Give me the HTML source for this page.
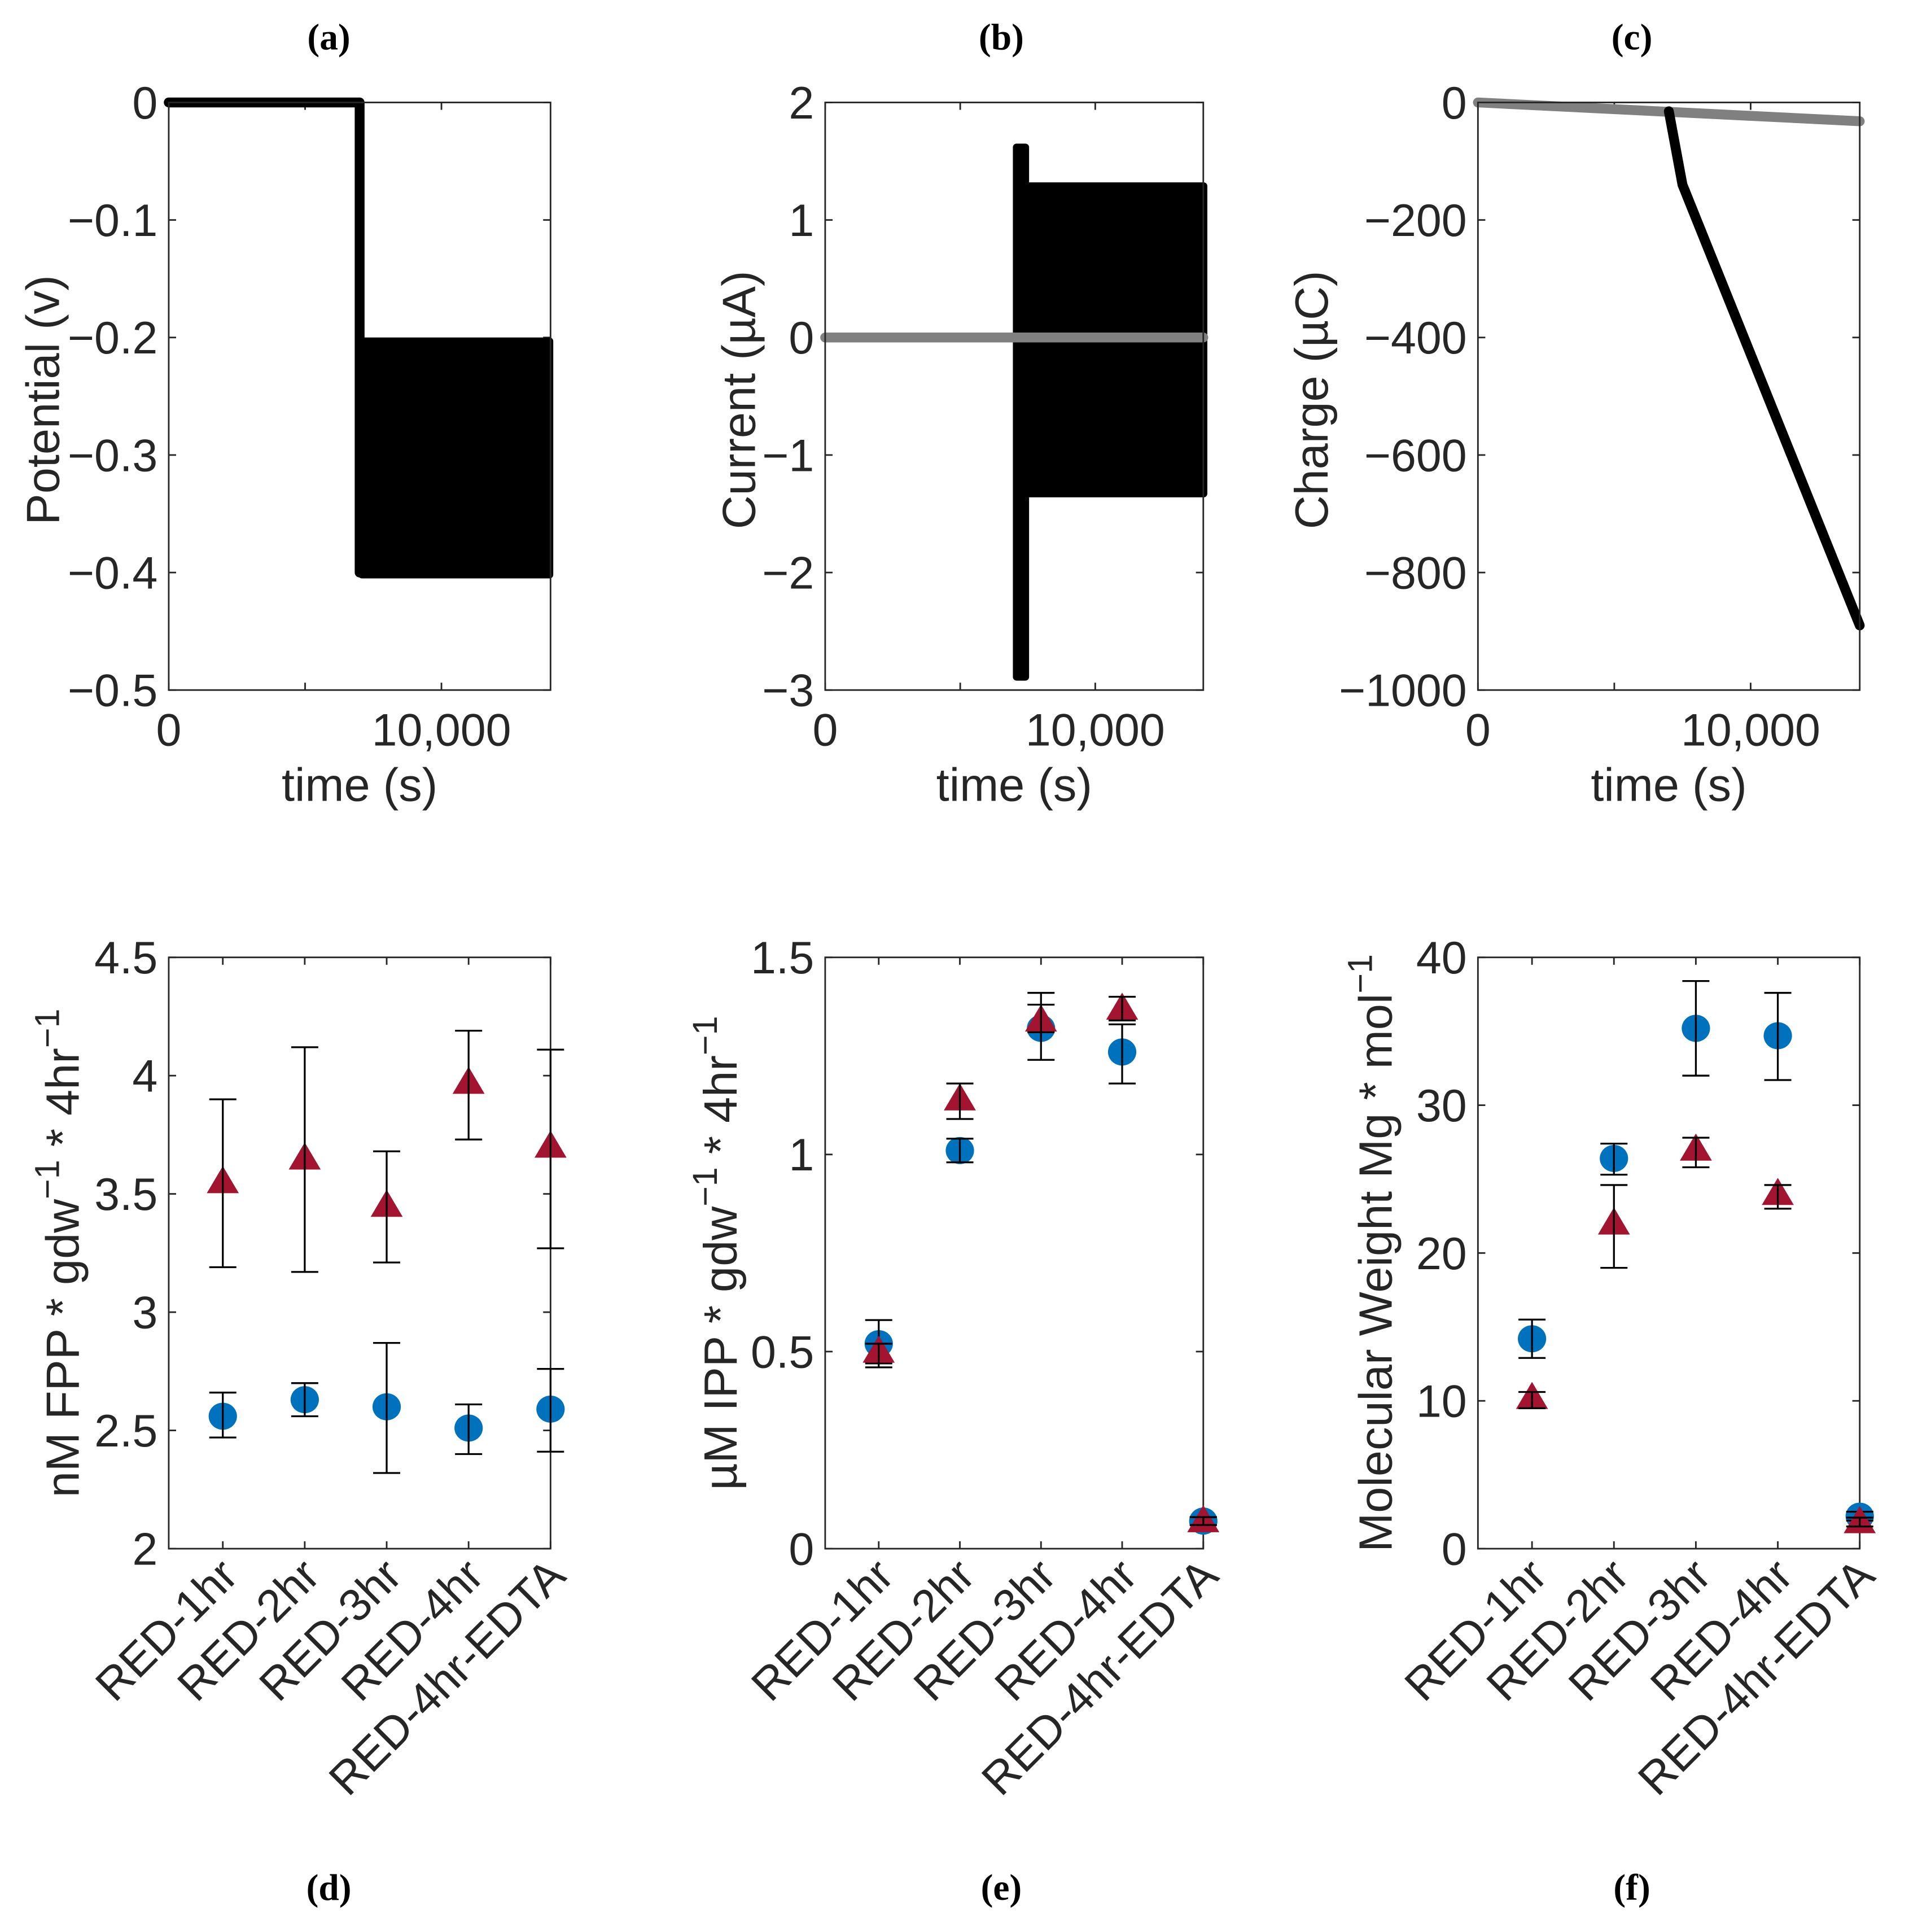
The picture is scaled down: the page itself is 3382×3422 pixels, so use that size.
<!DOCTYPE html>
<html><head><meta charset="utf-8"><style>
html,body{margin:0;padding:0;background:#fff;}
svg{display:block;}
text{font-family:"Liberation Sans",sans-serif;fill:#262626;}
.pl{font-family:"Liberation Serif",serif;font-weight:bold;fill:#000;font-size:30px;}
</style></head><body>
<svg id="fig" width="3382" height="3422" viewBox="0 0 1550 1568" xmlns="http://www.w3.org/2000/svg"></svg>
<script>
// ---- data ----
const timeTicks=[0,5000,10000];
const timeTickLabels=['0','','10,000'];
const potTicks=[0,-0.1,-0.2,-0.3,-0.4,-0.5];
const potTickLabels=['0','\u22120.1','\u22120.2','\u22120.3','\u22120.4','\u22120.5'];
const curTicks=[2,1,0,-1,-2,-3];
const curTickLabels=['2','1','0','\u22121','\u22122','\u22123'];
const chgTicks=[0,-200,-400,-600,-800,-1000];
const chgTickLabels=['0','\u2212200','\u2212400','\u2212600','\u2212800','\u22121000'];
const potLineT=[0,7000,7000];
const potLineV=[0,0,-0.4];
const potBlock=[6950,14100,-0.2,-0.405];
const curGrayT=[0,14000];
const curGrayV=[0,0];
const curSpike=[6950,7550,1.65,-2.92];
const curBlock=[7400,14150,1.32,-1.36];
const chgGrayT=[0,14000];
const chgGrayV=[0,-32];
const chgBlackT=[7000,7500,14000];
const chgBlackV=[-15,-140,-890];
const categories=['RED-1hr','RED-2hr','RED-3hr','RED-4hr','RED-4hr-EDTA'];
const dTri=[3.55,3.65,3.45,3.97,3.70];
const dTriLo=[3.19,3.17,3.21,3.73,3.27];
const dTriHi=[3.90,4.12,3.68,4.19,4.11];
const dCir=[2.56,2.63,2.60,2.51,2.59];
const dCirLo=[2.47,2.56,2.32,2.40,2.41];
const dCirHi=[2.66,2.70,2.87,2.61,2.76];
const dTicks=[2,2.5,3,3.5,4,4.5];
const dTickLabels=['2','2.5','3','3.5','4','4.5'];
const eTri=[0.50,1.14,1.34,1.37,0.07];
const eTriLo=[0.46,1.09,1.31,1.34,0.06];
const eTriHi=[0.52,1.18,1.41,1.40,0.08];
const eCir=[0.52,1.01,1.32,1.26,0.07];
const eCirLo=[0.47,0.98,1.24,1.18,0.06];
const eCirHi=[0.58,1.04,1.38,1.33,0.08];
const eTicks=[0,0.5,1,1.5];
const eTickLabels=['0','0.5','1','1.5'];
const fTri=[10.2,22.0,27.0,24.0,1.8];
const fTriLo=[9.5,19.0,25.8,23.0,1.5];
const fTriHi=[10.6,24.6,27.8,24.6,2.1];
const fCir=[14.2,26.4,35.2,34.7,2.2];
const fCirLo=[12.9,25.3,32.0,31.7,1.9];
const fCirHi=[15.5,27.4,38.4,37.6,2.5];
const fTicks=[0,10,20,30,40];
const fTickLabels=['0','10','20','30','40'];

const NS='http://www.w3.org/2000/svg';
const svg=document.getElementById('fig');
function el(tag,attrs,parent,txt){const e=document.createElementNS(NS,tag);for(const k in attrs)e.setAttribute(k,attrs[k]);if(txt!==undefined)e.textContent=txt;(parent||svg).appendChild(e);return e;}
function lin(d0,d1,r0,r1){return v=>r0+(v-d0)*(r1-r0)/(d1-d0);}
const TF=37;

function axesBox(g,x0,x1,y0,y1){
  const r=el('rect',{x:x0,y:y0,width:x1-x0,height:y1-y0,fill:'none',stroke:'#262626','stroke-width':1.3},g);
  
}
function yAxis(g,ticks,labels,ys,x0,x1){
  ticks.forEach((t,i)=>{const y=ys(t);
    el('line',{x1:x0,y1:y,x2:x0+6,y2:y,stroke:'#262626','stroke-width':1.3},g);
    el('line',{x1:x1,y1:y,x2:x1-6,y2:y,stroke:'#262626','stroke-width':1.3},g);
    const tx=el('text',{x:x0-9,y:y+13,'text-anchor':'end','font-size':TF},g,labels[i]);
    
  });
}
function xAxisNum(g,ticks,labels,xs,y0,y1){
  ticks.forEach((t,i)=>{const x=xs(t);
    el('line',{x1:x,y1:y1,x2:x,y2:y1-6,stroke:'#262626','stroke-width':1.3},g);
    el('line',{x1:x,y1:y0,x2:x,y2:y0+6,stroke:'#262626','stroke-width':1.3},g);
    if(labels[i]){const tx=el('text',{x:x,y:y1+45,'text-anchor':'middle','font-size':TF},g,labels[i]);
    }
  });
}
function title(txt,x,y){const t=el('text',{x:x,y:y,'text-anchor':'middle',class:'pl'},svg,txt);
  }
function ylabel(g,parts,x,y){const t=el('text',{transform:`translate(${x},${y}) rotate(-90)`,'text-anchor':'middle','font-size':38},g);
  
  parts.forEach(p=>{el('tspan',p[1]?{'font-size':28,dy:-16}:{dy:p[2]||0},t,p[0]);});
}
function xlabel(g,txt,x,y){const t=el('text',{x:x,y:y,'text-anchor':'middle','font-size':38},g,txt);
  }
function poly(g,ts,vs,xs,ys,color,w,name){
  const p=el('polyline',{points:ts.map((t,i)=>xs(t)+','+ys(vs[i])).join(' '),fill:'none',stroke:color,'stroke-width':w,'stroke-linejoin':'round','stroke-linecap':'round'},g);
  
}
function block(g,b,xs,ys,name){
  const r=el('rect',{x:xs(b[0]),y:ys(b[2]),width:xs(b[1])-xs(b[0]),height:ys(b[3])-ys(b[2]),fill:'#000',rx:3},g);
  
}

// ---- top panels ----
const TY0=83,TY1=560;
function topPanel(name,x0,x1,yticks,ylabs,ylab,ylx,letter,lx){
  const g=el('g',{});
  const xs=lin(0,14000,x0,x1);const ys=lin(yticks[0],yticks[yticks.length-1],TY0,TY1);
  yAxis(g,yticks,ylabs,ys,x0,x1);xAxisNum(g,timeTicks,timeTickLabels,xs,TY0,TY1);
  ylabel(g,[[ylab]],ylx,(TY0+TY1)/2+3);xlabel(g,'time (s)',(x0+x1)/2,650);
  title(letter,lx,40);
  return {g,xs,ys};
}
let P=topPanel('potential-chart',137,447,potTicks,potTickLabels,'Potential (v)',48,'(a)',267);
poly(P.g,potLineT,potLineV,P.xs,P.ys,'#000',8,'potential-line');
block(P.g,potBlock,P.xs,P.ys,'potential-oscillation');
axesBox(P.g,137,447,TY0,TY1);

P=topPanel('current-chart',670,977,curTicks,curTickLabels,'Current (\u00b5A)',613,'(b)',813);
block(P.g,curSpike,P.xs,P.ys,'current-spike');
block(P.g,curBlock,P.xs,P.ys,'current-oscillation');
poly(P.g,curGrayT,curGrayV,P.xs,P.ys,'#808080',8,'current-gray-line');
axesBox(P.g,670,977,TY0,TY1);

P=topPanel('charge-chart',1200,1510,chgTicks,chgTickLabels,'Charge (\u00b5C)',1078,'(c)',1325);
poly(P.g,chgGrayT,chgGrayV,P.xs,P.ys,'#808080',8,'charge-gray-line');
poly(P.g,chgBlackT,chgBlackV,P.xs,P.ys,'#000',8,'charge-black-line');
axesBox(P.g,1200,1510,TY0,TY1);

// ---- bottom panels ----
const BY0=777,BY1=1257;
function botPanel(name,x0,x1,yticks,ylabs,ylabParts,ylx,letter,lx,tri,triLo,triHi,cir,cirLo,cirHi){
  const g=el('g',{});
  const xs=lin(0.34,5,x0,x1);const ys=lin(yticks[0],yticks[yticks.length-1],BY1,BY0);
  yAxis(g,yticks,ylabs,ys,x0,x1);
  categories.forEach((c,i)=>{const x=xs(i+1);
    el('line',{x1:x,y1:BY1,x2:x,y2:BY1-6,stroke:'#262626','stroke-width':1.3},g);
    el('line',{x1:x,y1:BY0,x2:x,y2:BY0+6,stroke:'#262626','stroke-width':1.3},g);
    const t=el('text',{transform:`translate(${x+14},${BY1+24}) rotate(-45)`,'text-anchor':'end','font-size':TF},g,c);
    
  });
  axesBox(g,x0,x1,BY0,BY1);
  function errbar(i,lo,hi,nm){const x=xs(i+1);
    const e=el('g',{},g);
    el('line',{x1:x,y1:ys(lo),x2:x,y2:ys(hi),stroke:'#000','stroke-width':1.5},e);
    el('line',{x1:x-11,y1:ys(lo),x2:x+11,y2:ys(lo),stroke:'#000','stroke-width':1.5},e);
    el('line',{x1:x-11,y1:ys(hi),x2:x+11,y2:ys(hi),stroke:'#000','stroke-width':1.5},e);
  }
  cir.forEach((v,i)=>{
    const c=el('ellipse',{cx:xs(i+1),cy:ys(v),rx:11.5,ry:11,fill:'#0072BD'},g);
    
    errbar(i,cirLo[i],cirHi[i],'circle-error-bar');
  });
  tri.forEach((v,i)=>{const x=xs(i+1),y=ys(v);
    const t=el('polygon',{points:`${x},${y-13} ${x-13},${y+9} ${x+13},${y+9}`,fill:'#A2142F'},g);
    
    errbar(i,triLo[i],triHi[i],'triangle-error-bar');
  });
  ylabel(g,ylabParts,ylx,(BY0+BY1)/2+0);
  title(letter,lx,1542);
}
botPanel('fpp-chart',137,447,dTicks,dTickLabels,[['nM FPP * gdw'],['\u22121',1],[' * 4hr',0,16],['\u22121',1]],64,'(d)',267,dTri,dTriLo,dTriHi,dCir,dCirLo,dCirHi);
botPanel('ipp-chart',670,977,eTicks,eTickLabels,[['\u00b5M IPP * gdw'],['\u22121',1],[' * 4hr',0,16],['\u22121',1]],598,'(e)',813,eTri,eTriLo,eTriHi,eCir,eCirLo,eCirHi);
botPanel('mg-chart',1200,1510,fTicks,fTickLabels,[['Molecular Weight Mg * mol'],['\u22121',1]],1130,'(f)',1325,fTri,fTriLo,fTriHi,fCir,fCirLo,fCirHi);
</script>
</body></html>
